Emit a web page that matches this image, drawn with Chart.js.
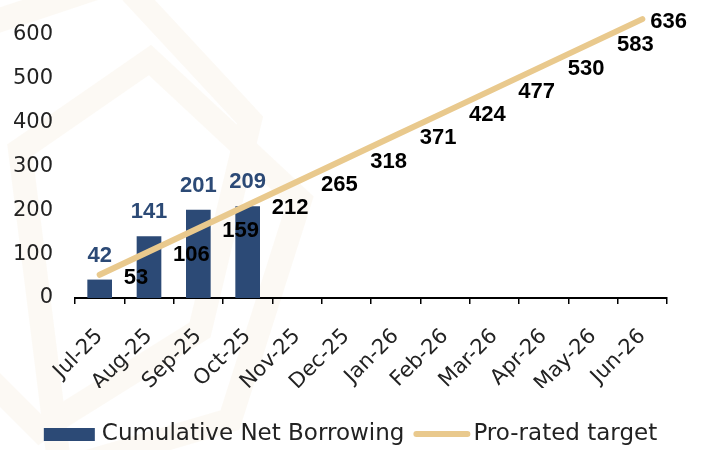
<!DOCTYPE html>
<html>
<head>
<meta charset="utf-8">
<script src="https://cdn.jsdelivr.net/npm/chart.js@4/dist/chart.umd.min.js"></script>
<style>
  html, body { margin: 0; padding: 0; background: #fff; }
  #wrap {
    position: relative; width: 701px; height: 450px;
    /* faint watermark on the left, as in the source slide */
    background: url("data:image/svg+xml;utf8,<svg xmlns='http://www.w3.org/2000/svg' width='701' height='450'><g fill='none' stroke='%23f1e4cd' stroke-width='24' opacity='0.2'><polygon points='-60,40 120,-20 250,120 200,330 40,430 -90,300'/><polygon points='20,150 150,60 300,200 230,420 60,470'/></g></svg>") no-repeat;
  }
</style>
</head>
<body>
<div id="wrap"><canvas id="borrowChart"></canvas></div>
<script>
  const months = ["Jul-25", "Aug-25", "Sep-25", "Oct-25", "Nov-25", "Dec-25",
    "Jan-26", "Feb-26", "Mar-26", "Apr-26", "May-26", "Jun-26"];
  const netBorrowing = [42, 141, 201, 209, null, null, null, null, null, null, null, null];
  const proRatedTarget = [53, 106, 159, 212, 265, 318, 371, 424, 477, 530, 583, 636];
  const yTicks = [0, 100, 200, 300, 400, 500, 600];

  const navy = "#2c4a76";
  const sand = "#e9c98d";
  const font = "'DejaVu Sans', sans-serif";
  const boldFont = "'Liberation Sans', Arial, sans-serif";

  // value labels: blue above the bars, black to the right of the line points
  const valueLabels = {
    id: "valueLabels",
    afterDatasetsDraw(chart) {
      const ctx = chart.ctx;
      ctx.save();
      ctx.font = "bold 22px " + boldFont;
      ctx.textBaseline = "middle";
      chart.data.datasets.forEach((ds, i) => {
        const meta = chart.getDatasetMeta(i);
        meta.data.forEach((el, j) => {
          const v = ds.data[j];
          if (v == null) return;
          const text = String(v);
          if (ds.type === "bar") {
            ctx.fillStyle = navy;
            ctx.textAlign = "center";
            ctx.fillText(text, el.x, el.y - 24);
          } else {
            ctx.fillStyle = "#000";
            ctx.textAlign = "left";
            const w = ctx.measureText(text).width;
            const x = Math.min(el.x + 24, chart.width - 14 - w);
            ctx.fillText(text, x, el.y + 3);
          }
        });
      });
      ctx.restore();
    }
  };

  const bottomLegend = {
    id: "bottomLegend",
    afterDraw(chart) {
      const ctx = chart.ctx;
      ctx.save();
      ctx.font = "23px " + font;
      ctx.textBaseline = "middle";
      const t1 = "Cumulative Net Borrowing";
      const t2 = "Pro-rated target";
      const w1 = ctx.measureText(t1).width;
      const w2 = ctx.measureText(t2).width;
      const total = 51 + 7 + w1 + 9 + 57 + 3 + w2;
      let x = (chart.width - total) / 2;
      const y = 434;
      ctx.fillStyle = navy;
      ctx.fillRect(x, y - 6, 51, 13);
      x += 58;
      ctx.fillStyle = "#222";
      ctx.textAlign = "left";
      ctx.fillText(t1, x, y);
      x += w1 + 9;
      ctx.strokeStyle = sand;
      ctx.lineWidth = 6;
      ctx.lineCap = "round";
      ctx.beginPath();
      ctx.moveTo(x + 3, y);
      ctx.lineTo(x + 54, y);
      ctx.stroke();
      x += 60;
      ctx.fillStyle = "#222";
      ctx.fillText(t2, x, y);
      ctx.restore();
    }
  };

  new Chart(document.getElementById("borrowChart"), {
    data: {
      labels: months,
      datasets: [
        {
          type: "line",
          label: "Pro-rated target",
          data: proRatedTarget,
          borderColor: sand,
          backgroundColor: sand,
          borderWidth: 6,
          borderCapStyle: "round",
          pointRadius: 0,
          tension: 0,
          order: 0,
        },
        {
          type: "bar",
          label: "Cumulative Net Borrowing",
          data: netBorrowing,
          backgroundColor: navy,
          categoryPercentage: 1,
          barPercentage: 0.5,
          order: 1,
        },
      ],
    },
    options: {
      responsive: true,
      maintainAspectRatio: false,
      animation: false,
      layout: { padding: { left: 6, right: 34, top: 13, bottom: 62 } },
      plugins: {
        legend: { display: false },
        tooltip: { enabled: false },
      },
      scales: {
        x: {
          offset: true,
          grid: {
            offset: true,
            drawOnChartArea: false,
            drawTicks: true,
            tickLength: 6,
            color: "#000",
            lineWidth: 1.5,
          },
          border: { display: true, color: "#000", width: 2 },
          ticks: {
            color: "#222",
            font: { family: font, size: 21 },
            maxRotation: 45,
            minRotation: 45,
            padding: 20,
          },
          afterFit: (scale) => {
            scale.paddingLeft = 0;
            scale.paddingRight = 0;
            scale.height = 90;
          },
        },
        y: {
          min: 0,
          max: 650,
          afterBuildTicks: (axis) => {
            axis.ticks = yTicks.map((v) => ({ value: v }));
          },
          grid: { display: false, drawTicks: false },
          border: { display: false },
          ticks: {
            color: "#222",
            font: { family: font, size: 21 },
            padding: 22,
          },
          afterFit: (scale) => {
            scale.width = 69;
            scale.paddingTop = 0;
            scale.paddingBottom = 0;
          },
        },
      },
    },
    plugins: [valueLabels, bottomLegend],
  });
</script>
</body>
</html>
